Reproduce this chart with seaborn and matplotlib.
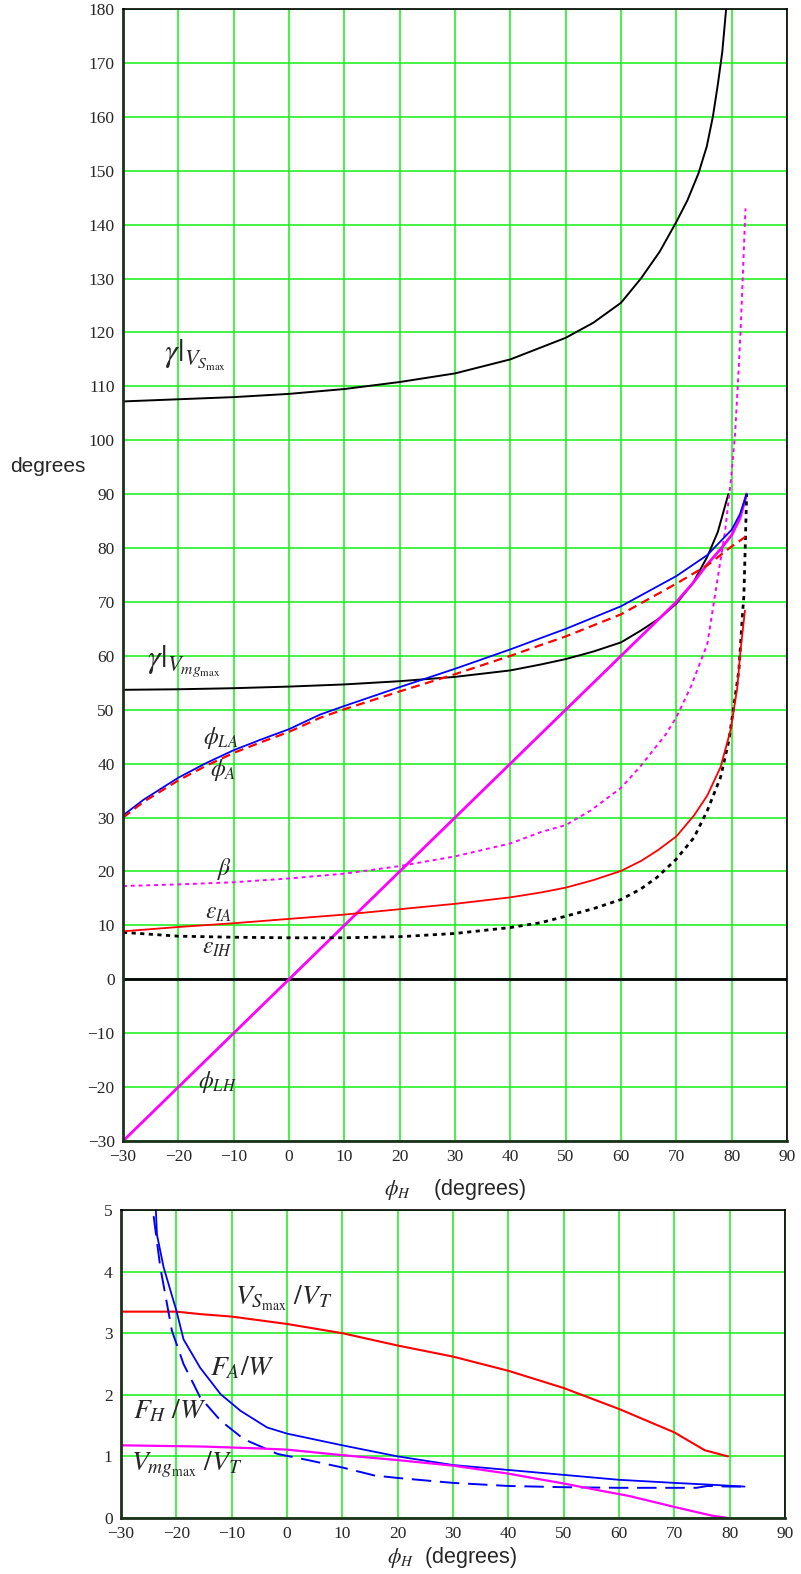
import numpy as np
import pandas as pd
import matplotlib
matplotlib.use("Agg")
import matplotlib.pyplot as plt
import seaborn as sns

# ---------------- data ----------------
# top chart (degrees vs phi_H)
gamma_vs_x = [-30, -20, -10, 0, 10, 20, 30, 40, 50, 55, 60, 63.6, 67, 70, 72, 74, 75.5, 76.6, 77.5, 78.3, 79]
gamma_vs_y = [107.2, 107.6, 108.0, 108.6, 109.5, 110.8, 112.4, 115.0, 119.0, 121.8, 125.5, 130.0, 135.0, 140.5, 144.5, 149.5, 154.5, 160.0, 166.0, 172.0, 180.0]

gamma_vmg_x = [-30, -20, -10, 0, 10, 20, 30, 40, 45.5, 50, 55, 60, 63.6, 67, 70, 73, 75.6, 77.5, 79.4]
gamma_vmg_y = [53.7, 53.8, 54.0, 54.3, 54.7, 55.3, 56.1, 57.3, 58.4, 59.4, 60.8, 62.5, 64.7, 67.0, 69.7, 73.5, 78.4, 83.0, 90.0]

phi_LA_x = [-30, -26.3, -20, -15, -10, -5, 0, 5.6, 10, 20, 30, 40, 45.5, 50, 60, 70, 75.6, 80, 81.5, 82.7]
phi_LA_y = [30.4, 33.3, 37.4, 40.1, 42.5, 44.5, 46.4, 49.1, 50.7, 54.2, 57.6, 61.2, 63.3, 65.0, 69.2, 74.8, 78.7, 83.4, 86.3, 90.0]

phi_A_x = [-30, -26.3, -20, -15, -10, -5, 0, 5.6, 10, 20, 30, 40, 45.5, 50, 60, 70, 75.6, 80, 82.5]
phi_A_y = [30.0, 32.9, 36.9, 39.6, 42.0, 44.0, 45.9, 48.5, 50.1, 53.4, 56.6, 60.0, 62.0, 63.6, 67.7, 73.4, 76.8, 80.3, 82.1]

phi_LH_x = [-30, 0, 30, 60, 70, 73, 75.6, 78, 80, 81.5, 82.7]
phi_LH_y = [-30, 0, 30, 60, 70, 73.5, 77.0, 79.8, 82.4, 85.5, 90.0]

beta_x = [-30, -20, -10, 0, 10, 20, 30, 40, 45.5, 50, 54.5, 60, 63.5, 68, 70, 72.6, 75.6, 77.1, 78.8, 79.9, 80.6, 81.1, 81.6, 82.0, 82.3, 82.5]
beta_y = [17.3, 17.6, 18.0, 18.7, 19.6, 21.0, 22.8, 25.2, 27.3, 28.6, 31.3, 35.5, 39.5, 45.3, 48.6, 54.2, 62.2, 72.0, 83.0, 93.0, 101.0, 110.0, 120.0, 130.0, 138.0, 143.0]

eps_IA_x = [-30, -20, -10, 0, 10, 20, 30, 40, 45.5, 50, 55, 60, 63.7, 66.6, 70, 73.2, 75.6, 78, 79.8, 81, 81.6, 82.4]
eps_IA_y = [8.9, 9.7, 10.4, 11.2, 12.0, 13.0, 14.0, 15.2, 16.1, 17.0, 18.4, 20.1, 22.0, 23.9, 26.5, 30.4, 34.1, 39.4, 46.2, 54.0, 61.0, 68.4]

eps_IH_x = [-30, -20, -10, 0, 10, 20, 30, 40, 45.5, 50, 55, 60, 63.5, 66.5, 70, 73.2, 75.6, 78, 79.5, 81.3, 82.0, 82.2, 82.5, 82.7]
eps_IH_y = [8.7, 8.0, 7.8, 7.7, 7.7, 7.9, 8.5, 9.6, 10.5, 11.7, 13.1, 14.8, 16.7, 18.9, 22.3, 26.3, 31.3, 37.5, 44.3, 57.3, 68.4, 71.0, 82.0, 90.0]

# bottom chart (ratios vs phi_H)
vs_ratio_x = [-30, -20, -15.7, -10, 0, 10, 20, 30, 40, 50, 60, 70, 75.5, 79.7]
vs_ratio_y = [3.35, 3.35, 3.31, 3.27, 3.15, 3.00, 2.80, 2.62, 2.39, 2.11, 1.77, 1.39, 1.10, 1.00]

fa_x = [-23.7, -23.5, -22.3, -20, -18.7, -15.7, -12, -8.4, -3.6, 0, 10, 20, 30, 40, 50, 60, 70, 76.7, 82.7]
fa_y = [5.0, 4.6, 4.07, 3.37, 2.9, 2.44, 2.01, 1.74, 1.47, 1.37, 1.18, 1.0, 0.86, 0.78, 0.70, 0.62, 0.57, 0.54, 0.51]

fh_x = [-24.1, -22.9, -20.8, -18.7, -15.7, -12, -7.8, -1.7, 3.8, 10, 15.8, 20, 30, 40, 50, 60, 70, 74, 76, 80, 82.5]
fh_y = [4.9, 4.07, 3.04, 2.5, 1.96, 1.58, 1.28, 1.04, 0.94, 0.82, 0.69, 0.65, 0.57, 0.52, 0.50, 0.49, 0.49, 0.49, 0.52, 0.51, 0.51]

vmg_ratio_x = [-30, -15.2, -5.2, 0, 10, 20, 30, 40, 50, 56.9, 61.7, 70, 76.7, 79.7]
vmg_ratio_y = [1.18, 1.16, 1.13, 1.11, 1.02, 0.94, 0.85, 0.72, 0.56, 0.44, 0.36, 0.18, 0.04, 0.0]

x_ticks = list(range(-30, 91, 10))
y_ticks_top = list(range(-30, 181, 10))
y_ticks_bot = [0, 1, 2, 3, 4, 5]

# ---------------- style ----------------
sns.set_style("white")
plt.rcParams["font.family"] = ["Liberation Sans", "DejaVu Sans"]
plt.rcParams["mathtext.fontset"] = "stix"
plt.rcParams["axes.unicode_minus"] = True

GRID = "#14f014"
SPINE = "#1c301c"

fig = plt.figure(figsize=(8.01, 15.74), dpi=100)
ax1 = fig.add_axes([123 / 801, 1 - 1141 / 1574, (787 - 123) / 801, (1141 - 9) / 1574])
ax2 = fig.add_axes([121 / 801, 1 - 1518 / 1574, (785 - 121) / 801, (1518 - 1210) / 1574])


def draw(ax, xs, ys, color, lw, dashes=None):
    df = pd.DataFrame({"x": xs, "y": ys})
    sns.lineplot(data=df, x="x", y="y", ax=ax, color=color, linewidth=lw,
                 sort=False, estimator=None)
    line = ax.get_lines()[-1]
    if dashes is not None:
        line.set_dashes(dashes)
    return line


def style_axes(ax, yticks, ylim):
    ax.set_xlim(-30, 90)
    ax.set_ylim(*ylim)
    ax.set_xticks(x_ticks)
    ax.set_yticks(yticks)
    ax.grid(True, color=GRID, linewidth=1.1)
    ax.set_axisbelow(True)
    ax.tick_params(length=0, pad=6, labelsize=12.5)
    for lab in ax.get_xticklabels() + ax.get_yticklabels():
        lab.set_fontfamily("Liberation Serif")
    for side, sp in ax.spines.items():
        sp.set_visible(True)
        sp.set_color(SPINE if side in ("left", "bottom") else "black")
        sp.set_linewidth(2.0 if side in ("left", "bottom") else 1.2)
    ax.set_xlabel("")
    ax.set_ylabel("")


# ---------------- top chart ----------------
ax1.axhline(0, color="black", linewidth=2.0, zorder=2)
draw(ax1, gamma_vs_x, gamma_vs_y, "black", 1.4)
draw(ax1, gamma_vmg_x, gamma_vmg_y, "black", 1.4)
draw(ax1, beta_x, beta_y, "#ff00ff", 1.4, (2, 2))
draw(ax1, phi_LH_x, phi_LH_y, "#ff00ff", 2.0)
draw(ax1, eps_IH_x, eps_IH_y, "black", 2.0, (1.5, 1.6))
draw(ax1, eps_IA_x, eps_IA_y, "#ff0000", 1.3)
draw(ax1, phi_LA_x, phi_LA_y, "#0000ff", 1.3)
draw(ax1, phi_A_x, phi_A_y, "#ff0000", 1.6, (4, 2.5))
style_axes(ax1, y_ticks_top, (-30, 180))

lab_kw = dict(fontsize=17, ha="left", va="baseline")
gam_kw = dict(fontsize=23, ha="left", va="baseline")
ax1.text(-22.6, 114.6, r"$\gamma|_{V_{S_{\mathrm{max}}}}$", **gam_kw)
ax1.text(-25.7, 58.0, r"$\gamma|_{V_{mg_{\mathrm{max}}}}$", **gam_kw)
ax1.text(-15.5, 43.6, r"$\phi_{LA}$", **lab_kw)
ax1.text(-14.3, 37.7, r"$\phi_{A}$", **lab_kw)
ax1.text(-13.0, 19.3, r"$\beta$", **lab_kw)
ax1.text(-15.2, 11.3, r"$\varepsilon_{IA}$", **lab_kw)
ax1.text(-15.7, 4.8, r"$\varepsilon_{IH}$", **lab_kw)
ax1.text(-16.4, -20.2, r"$\phi_{LH}$", **lab_kw)

fig.text(48 / 801, 1 - 467 / 1574, "degrees", fontsize=15, ha="center", va="center")
fig.text(455 / 801, 1 - 1190 / 1574, r"$\phi_H$    (degrees)", fontsize=15.5, ha="center", va="center")

# ---------------- bottom chart ----------------
draw(ax2, vs_ratio_x, vs_ratio_y, "#ff0000", 1.5)
draw(ax2, fa_x, fa_y, "#0000ff", 1.3)
draw(ax2, fh_x, fh_y, "#0000ff", 1.4, (10, 4.5))
draw(ax2, vmg_ratio_x, vmg_ratio_y, "#ff00ff", 1.6)
style_axes(ax2, y_ticks_bot, (0, 5))

lab2 = dict(fontsize=20, ha="left", va="baseline")
ax2.text(-9.4, 3.46, r"$V_{S_{\mathrm{max}}}\ /V_T$", **lab2)
ax2.text(-13.9, 2.32, r"$F_A/W$", **lab2)
ax2.text(-27.8, 1.62, r"$F_H\ /W$", **lab2)
ax2.text(-28.2, 0.78, r"$V_{mg_{\mathrm{max}}}\ /V_T$", **lab2)

fig.text(452 / 801, 1 - 1558 / 1574, r"$\phi_H$  (degrees)", fontsize=15.5, ha="center", va="center")

fig.savefig("out.png", dpi=100)
